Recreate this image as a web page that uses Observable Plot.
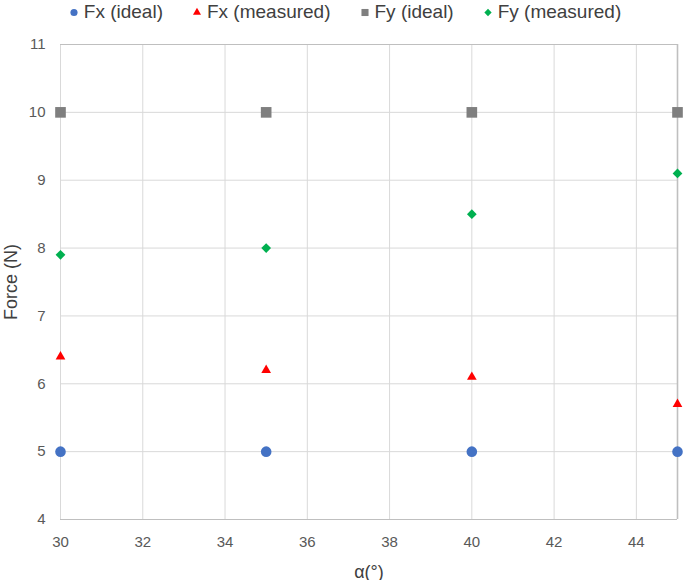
<!DOCTYPE html>
<html><head><meta charset="utf-8">
<script src="https://cdn.jsdelivr.net/npm/d3@7"></script>
<script src="https://cdn.jsdelivr.net/npm/@observablehq/plot@0.6"></script>
<style>
body{margin:0;background:#fff;font-family:"Liberation Sans",Arial,sans-serif;}
#legend{height:24px;display:flex;justify-content:center;align-items:center;gap:28px;font-size:19px;color:#404040;padding-left:4px;}
.item{display:flex;align-items:center;gap:4px;white-space:nowrap}
.item svg{display:block}
#chart svg{display:block;overflow:visible}
#chart g[aria-label="x-axis label"] text, #chart g[aria-label="y-axis label"] text{font-size:18px;fill:#404040;}
</style></head><body>
<div id="legend"></div><div id="chart"></div>
<script>
const angles = [30, 35, 40, 45];
const fxIdeal = [5, 5, 5, 5];
const fxMeasured = [6.4, 6.2, 6.1, 5.7];
const fyIdeal = [10, 10, 10, 10];
const fyMeasured = [7.9, 8.0, 8.5, 9.1];
const seriesNames = ["Fx (ideal)", "Fx (measured)", "Fy (ideal)", "Fy (measured)"];
const seriesColors = ["#4472C4", "#FF0000", "#7F7F7F", "#00B050"];
const seriesSymbols = ["circle", "triangle", "square", "diamond2"];
const seriesRadius = [5.3, 3.6, 6.0, 4.4];
const xTicks = [30, 32, 34, 36, 38, 40, 42, 44];
const yTicks = [4, 5, 6, 7, 8, 9, 10, 11];
const xLabel = "α(°)";
const yLabel = "Force (N)";

const seriesValues = [fxIdeal, fxMeasured, fyIdeal, fyMeasured];
const rows = seriesValues.map((vals, s) => angles.map((a, i) => ({series: seriesNames[s], x: a, y: vals[i]})));

// legend
const legend = d3.select("#legend");
seriesNames.forEach((name, i) => {
  const it = legend.append("div").attr("class", "item");
  const sv = it.append("svg").attr("width", 12).attr("height", 12);
  const sym = {circle: d3.symbolCircle, triangle: d3.symbolTriangle, square: d3.symbolSquare, diamond2: d3.symbolDiamond2}[seriesSymbols[i]];
  const size = [40, 28, 50, 34][i];
  sv.append("path").attr("transform", "translate(6,6.5)").attr("d", d3.symbol(sym, size)()).attr("fill", seriesColors[i]);
  it.append("span").text(name);
});

const marks = [
  Plot.gridX(xTicks, {stroke: "#d9d9d9", strokeOpacity: 1}),
  Plot.gridY(yTicks, {stroke: "#d9d9d9", strokeOpacity: 1}),
  Plot.ruleY([4, 11], {stroke: "#bfbfbf"}),
  Plot.ruleX([45], {stroke: "#bfbfbf", strokeWidth: 1.6}),
  Plot.axisX({ticks: xTicks, tickFormat: "d", tickSize: 0, tickPadding: 17, label: xLabel, labelAnchor: "center", labelArrow: "none", labelOffset: 58}),
  Plot.axisY({ticks: yTicks, tickFormat: "d", tickSize: 0, tickPadding: 15, label: yLabel, labelAnchor: "center", labelArrow: "none", labelOffset: 56}),
];
rows.forEach((data, s) => {
  marks.push(Plot.dot(data, {x: "x", y: "y", symbol: () => seriesSymbols[s], fill: seriesColors[s], r: seriesRadius[s]}));
});

const chart = Plot.plot({
  width: 685,
  height: 556,
  marginTop: 20,
  marginBottom: 61,
  marginLeft: 60,
  marginRight: 8,
  style: {fontFamily: '"Liberation Sans", Arial, sans-serif', fontSize: "15px", color: "#595959", background: "#fff"},
  x: {domain: [30, 45]},
  y: {domain: [4, 11]},
  symbol: {type: "identity"},
  marks
});
document.getElementById("chart").append(chart);
</script>
</body></html>
